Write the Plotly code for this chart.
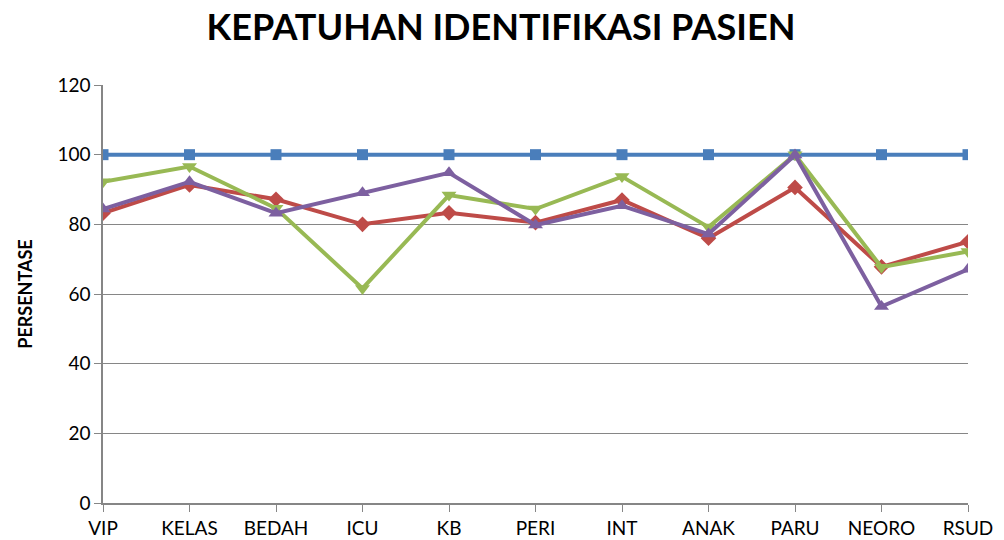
import plotly.graph_objects as go

categories = ["VIP", "KELAS", "BEDAH", "ICU", "KB", "PERI", "INT", "ANAK", "PARU", "NEORO", "RSUD"]
series_blue = [100, 100, 100, 100, 100, 100, 100, 100, 100, 100, 100]
series_red = [83.2, 91.3, 87.2, 80.0, 83.3, 80.5, 87.0, 76.0, 90.6, 67.8, 75.0]
series_green = [92.2, 96.6, 84.6, 61.6, 88.4, 84.4, 93.7, 79.2, 100.0, 67.7, 72.2]
series_purple = [84.4, 92.2, 83.2, 89.1, 94.8, 79.8, 85.3, 77.2, 99.9, 56.4, 67.1]
y_ticks = [0, 20, 40, 60, 80, 100, 120]

fig = go.Figure()
specs = [
    (series_blue, "#4A7EBB", "square", 11),
    (series_red, "#BE4B48", "diamond", 12),
    (series_green, "#98B954", "triangle-down", 13),
    (series_purple, "#7D60A0", "triangle-up", 13),
]
for vals, col, sym, sz in specs:
    fig.add_trace(go.Scatter(
        x=categories, y=vals, mode="lines+markers",
        line=dict(color=col, width=4),
        marker=dict(symbol=sym, size=sz, color=col),
        showlegend=False,
    ))

fig.update_layout(
    width=1004, height=540,
    margin=dict(l=95, r=44, t=77, b=45),
    paper_bgcolor="white", plot_bgcolor="white",
    font=dict(family="Lato", color="black", size=19),
    title=dict(text="<b>KEPATUHAN IDENTIFIKASI PASIEN</b>", x=493 / 1004, xanchor="center",
               y=1 - 19 / 540, yanchor="middle", font=dict(size=36, family="Lato", color="black")),
)
fig.update_xaxes(
    type="category", showgrid=False, showline=True, linecolor="#868686", linewidth=1.5,
    ticks="outside", ticklen=7, tickcolor="#868686", tickfont=dict(size=19),
    range=[0, len(categories) - 1], zeroline=False, automargin=False,
)
fig.update_yaxes(
    range=[0, 120], tickvals=y_ticks, showgrid=True, gridcolor="#868686", gridwidth=1,
    showline=True, linecolor="#868686", linewidth=1.5, ticks="outside", ticklen=7,
    tickcolor="#868686", tickfont=dict(size=19), zeroline=False,
    title=dict(text="<b>PERSENTASE</b>", font=dict(size=18), standoff=20),
)
fig.write_html("out.html")
